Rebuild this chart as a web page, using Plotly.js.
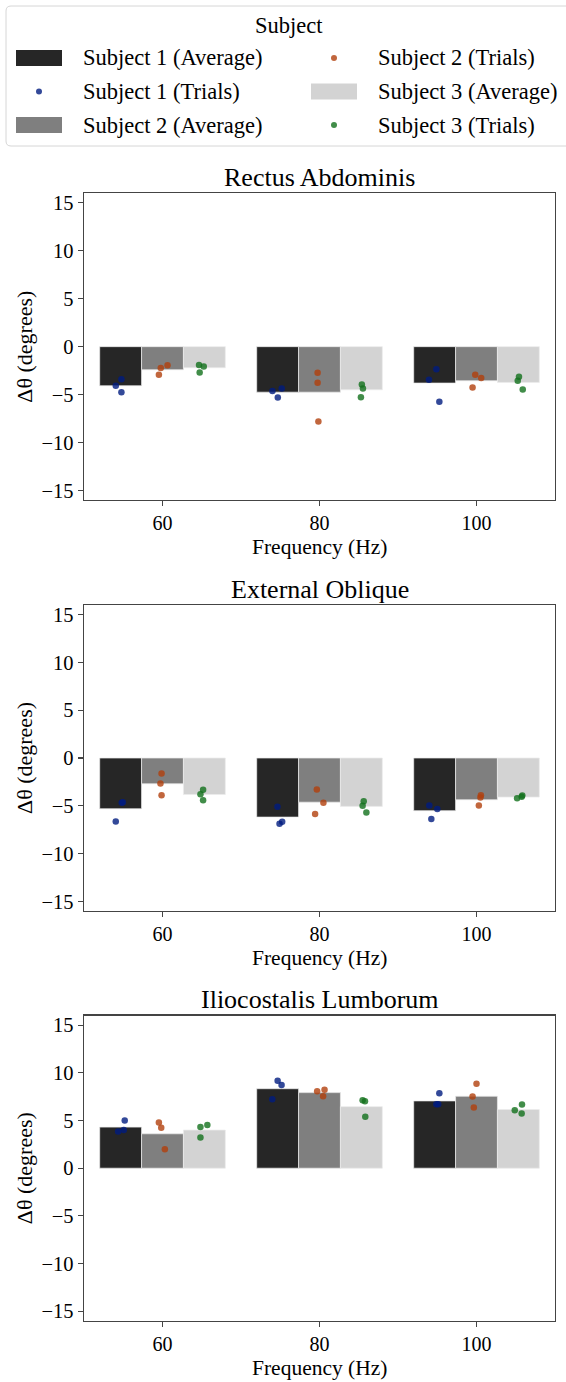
<!DOCTYPE html>
<html>
<head>
<meta charset="utf-8">
<script src="https://cdn.plot.ly/plotly-3.0.1.min.js"></script>
<style>html,body{margin:0;padding:0;background:#fff;}#chart{width:566px;height:1382px;}</style>
</head>
<body>
<div id="chart"></div>
<script>
// ---------- data ----------
const categories = ['60', '80', '100'];
const subjects = ['Subject 1', 'Subject 2', 'Subject 3'];
const muscles = ['Rectus Abdominis', 'External Oblique', 'Iliocostalis Lumborum'];
const yTicks = [-15, -10, -5, 0, 5, 10, 15];
const xTitle = 'Frequency (Hz)';
const yTitle = 'Δθ (degrees)';

// Rectus Abdominis
const raAvgS1 = [-4.08, -4.75, -3.80];
const raAvgS2 = [-2.41, -4.75, -3.56];
const raAvgS3 = [-2.20, -4.50, -3.73];
const raTrialsS1 = [[-3.39, -4.08, -4.75], [-4.64, -4.36, -5.30], [-2.37, -3.46, -5.76]];
const raTrialsS2 = [[-2.23, -1.95, -2.93], [-2.72, -3.77, -7.82], [-2.93, -3.28, -4.26]];
const raTrialsS3 = [[-1.92, -2.06, -2.69], [-3.95, -4.36, -5.27], [-3.14, -3.56, -4.47]];
const raJitterS1 = [[0.005, -0.031, 0.005], [-0.033, 0.026, 0.001], [0.011, -0.036, 0.030]];
const raJitterS2 = [[-0.011, 0.032, -0.023], [-0.012, -0.012, -0.007], [-0.008, 0.030, -0.025]];
const raJitterS3 = [[-0.034, -0.004, -0.030], [0.003, 0.010, -0.003], [0.004, -0.004, 0.028]];

// External Oblique
const eoAvgS1 = [-5.31, -6.18, -5.51];
const eoAvgS2 = [-2.70, -4.62, -4.37];
const eoAvgS3 = [-3.82, -5.06, -4.09];
const eoTrialsS1 = [[-4.69, -4.62, -6.63], [-5.10, -6.66, -6.87], [-4.96, -5.34, -6.38]];
const eoTrialsS2 = [[-1.63, -2.67, -3.89], [-3.29, -4.69, -5.86], [-3.89, -4.12, -4.96]];
const eoTrialsS3 = [[-3.33, -3.78, -4.41], [-4.51, -4.99, -5.69], [-3.92, -4.20, -4.06]];
const eoJitterS1 = [[0.007, 0.014, -0.031], [-0.001, 0.029, 0.012], [-0.034, 0.017, -0.021]];
const eoJitterS2 = [[-0.006, -0.013, -0.006], [-0.017, 0.025, -0.028], [0.028, 0.025, 0.015]];
const eoJitterS3 = [[-0.008, -0.025, -0.008], [0.015, 0.008, 0.032], [0.025, -0.008, 0.021]];

// Iliocostalis Lumborum
const ilAvgS1 = [4.31, 8.34, 7.06];
const ilAvgS2 = [3.61, 7.93, 7.55];
const ilAvgS3 = [4.00, 6.46, 6.15];
const ilTrialsS1 = [[5.00, 4.00, 3.86], [9.18, 8.72, 7.23], [7.86, 6.71, 6.71]];
const ilTrialsS2 = [[4.80, 4.24, 1.99], [8.07, 8.24, 7.55], [8.87, 7.51, 6.37]];
const ilTrialsS3 = [[4.31, 4.52, 3.23], [7.13, 7.02, 5.39], [6.09, 6.68, 5.74]];
const ilJitterS1 = [[0.026, 0.020, -0.016], [0.000, 0.025, -0.034], [0.030, 0.011, 0.023]];
const ilJitterS2 = [[-0.023, -0.008, 0.015], [-0.015, 0.032, 0.023], [0.000, -0.025, -0.017]];
const ilJitterS3 = [[-0.025, 0.019, -0.025], [0.008, 0.023, 0.025], [-0.023, 0.023, 0.021]];

// ---------- styling ----------
const W = 566, H = 1382;
const FONT = '"Liberation Serif", "Times New Roman", serif';
const barColors = ['#262626', '#7f7f7f', '#d3d3d3'];
const dotColors = ['rgb(0,28,127)', 'rgb(177,64,13)', 'rgb(18,113,28)'];
const nSub = 3, groupWidth = 0.8;
const barW = groupWidth / nSub;
const dodge = [-barW, 0, barW];

const panels = [
  {avg: [raAvgS1, raAvgS2, raAvgS3], trials: [raTrialsS1, raTrialsS2, raTrialsS3], jit: [raJitterS1, raJitterS2, raJitterS3], top: 193.3, bottom: 500},
  {avg: [eoAvgS1, eoAvgS2, eoAvgS3], trials: [eoTrialsS1, eoTrialsS2, eoTrialsS3], jit: [eoJitterS1, eoJitterS2, eoJitterS3], top: 605, bottom: 911},
  {avg: [ilAvgS1, ilAvgS2, ilAvgS3], trials: [ilTrialsS1, ilTrialsS2, ilTrialsS3], jit: [ilJitterS1, ilJitterS2, ilJitterS3], top: 1015.7, bottom: 1320.7}
];

const px = x => x / W;
const py = y => 1 - y / H;
const catIdx = categories.map((c, i) => i);

const traces = [];
const layout = {
  width: W, height: H,
  margin: {l: 0, r: 0, t: 0, b: 0},
  paper_bgcolor: '#fff', plot_bgcolor: '#fff',
  font: {family: FONT, size: 20, color: '#000'},
  showlegend: false,
  barmode: 'group', bargap: 1 - groupWidth, bargroupgap: 0,
  annotations: [], shapes: []
};

panels.forEach((p, k) => {
  const sfx = k === 0 ? '' : String(k + 1);
  const xa = 'x' + sfx, ya = 'y' + sfx;
  subjects.forEach((s, j) => {
    traces.push({
      type: 'bar', name: s + ' (Average)', x: catIdx, y: p.avg[j],
      xaxis: xa, yaxis: ya, offsetgroup: String(j),
      marker: {color: barColors[j], line: {color: 'rgba(235,235,235,0.9)', width: 0.8}},
      hoverinfo: 'y'
    });
  });
  subjects.forEach((s, j) => {
    const xs = [], ys = [];
    p.trials[j].forEach((vals, i) => {
      vals.forEach((v, t) => { xs.push(i + dodge[j] + p.jit[j][i][t]); ys.push(v); });
    });
    traces.push({
      type: 'scatter', mode: 'markers', name: s + ' (Trials)', x: xs, y: ys,
      xaxis: xa, yaxis: ya,
      marker: {color: dotColors[j], size: 6.5, opacity: 0.8, line: {width: 0}},
      hoverinfo: 'y'
    });
  });
  layout['xaxis' + sfx] = {
    domain: [px(84), px(555)], anchor: ya,
    range: [-0.5, categories.length - 0.5],
    tickmode: 'array', tickvals: catIdx, ticktext: categories,
    ticks: 'outside', ticklen: 5, tickwidth: 1.2, tickcolor: '#444',
    showline: true, mirror: true, linecolor: '#444', linewidth: 1.3,
    showgrid: false, zeroline: false,
    tickfont: {family: FONT, size: 20, color: '#000'}
  };
  layout['yaxis' + sfx] = {
    domain: [py(p.bottom), py(p.top)], anchor: xa,
    range: [-16, 16],
    tickmode: 'array', tickvals: yTicks,
    ticks: 'outside', ticklen: 5, tickwidth: 1.2, tickcolor: '#444',
    showline: true, mirror: true, linecolor: '#444', linewidth: 1.3,
    showgrid: false, zeroline: false,
    tickfont: {family: FONT, size: 20.5, color: '#000'},
    title: {text: yTitle, font: {family: FONT, size: 22, color: '#000'}, standoff: 2}
  };
  // panel title
  layout.annotations.push({
    text: muscles[k], xref: 'paper', yref: 'paper',
    x: px(319.5), y: py(p.top - 16), xanchor: 'center', yanchor: 'middle',
    showarrow: false, font: {family: FONT, size: 26, color: '#000'}
  });
  // x-axis title
  layout.annotations.push({
    text: xTitle, xref: 'paper', yref: 'paper',
    x: px(319.5), y: py(p.bottom + 47), xanchor: 'center', yanchor: 'middle',
    showarrow: false, borderpad: 0, font: {family: FONT, size: 21.5, color: '#000'}
  });
});

// ---------- legend (drawn in paper space) ----------
const legendItems = [
  {label: 'Subject 1 (Average)', kind: 'bar', s: 0, col: 0, row: 0},
  {label: 'Subject 1 (Trials)', kind: 'dot', s: 0, col: 0, row: 1},
  {label: 'Subject 2 (Average)', kind: 'bar', s: 1, col: 0, row: 2},
  {label: 'Subject 2 (Trials)', kind: 'dot', s: 1, col: 1, row: 0},
  {label: 'Subject 3 (Average)', kind: 'bar', s: 2, col: 1, row: 1},
  {label: 'Subject 3 (Trials)', kind: 'dot', s: 2, col: 1, row: 2}
];
const rowY = [58, 91.5, 125];
const colRect = [[16, 62], [311, 357]];
const colDot = [39, 334];
const colText = [81, 376];

// frame with rounded corners
(function () {
  const x0 = 6, x1 = 572, y0 = 6, y1 = 146, r = 5;
  const path = `M${px(x0 + r)},${py(y0)} L${px(x1 - r)},${py(y0)} Q${px(x1)},${py(y0)} ${px(x1)},${py(y0 + r)} ` +
    `L${px(x1)},${py(y1 - r)} Q${px(x1)},${py(y1)} ${px(x1 - r)},${py(y1)} L${px(x0 + r)},${py(y1)} ` +
    `Q${px(x0)},${py(y1)} ${px(x0)},${py(y1 - r)} L${px(x0)},${py(y0 + r)} Q${px(x0)},${py(y0)} ${px(x0 + r)},${py(y0)} Z`;
  layout.shapes.push({type: 'path', xref: 'paper', yref: 'paper', path: path,
    line: {color: '#d6d6d6', width: 1}, fillcolor: 'rgba(255,255,255,0.8)'});
})();
layout.annotations.push({text: 'Subject', xref: 'paper', yref: 'paper', x: px(289), y: py(25),
  xanchor: 'center', yanchor: 'middle', showarrow: false, font: {family: FONT, size: 22.5, color: '#000'}});
legendItems.forEach(it => {
  const yc = rowY[it.row];
  if (it.kind === 'bar') {
    layout.shapes.push({type: 'rect', xref: 'paper', yref: 'paper',
      x0: px(colRect[it.col][0]), x1: px(colRect[it.col][1]), y0: py(yc - 8), y1: py(yc + 8),
      fillcolor: barColors[it.s], line: {width: 0}});
  } else {
    const r = 3;
    layout.shapes.push({type: 'circle', xref: 'paper', yref: 'paper',
      x0: px(colDot[it.col] - r), x1: px(colDot[it.col] + r), y0: py(yc - r), y1: py(yc + r),
      fillcolor: dotColors[it.s], opacity: 0.8, line: {width: 0}});
  }
  layout.annotations.push({text: it.label, xref: 'paper', yref: 'paper', x: px(colText[it.col]), y: py(yc),
    xanchor: 'left', yanchor: 'middle', showarrow: false, font: {family: FONT, size: 22.5, color: '#000'}});
});

Plotly.newPlot('chart', traces, layout, {staticPlot: true, displayModeBar: false});
</script>
</body>
</html>
